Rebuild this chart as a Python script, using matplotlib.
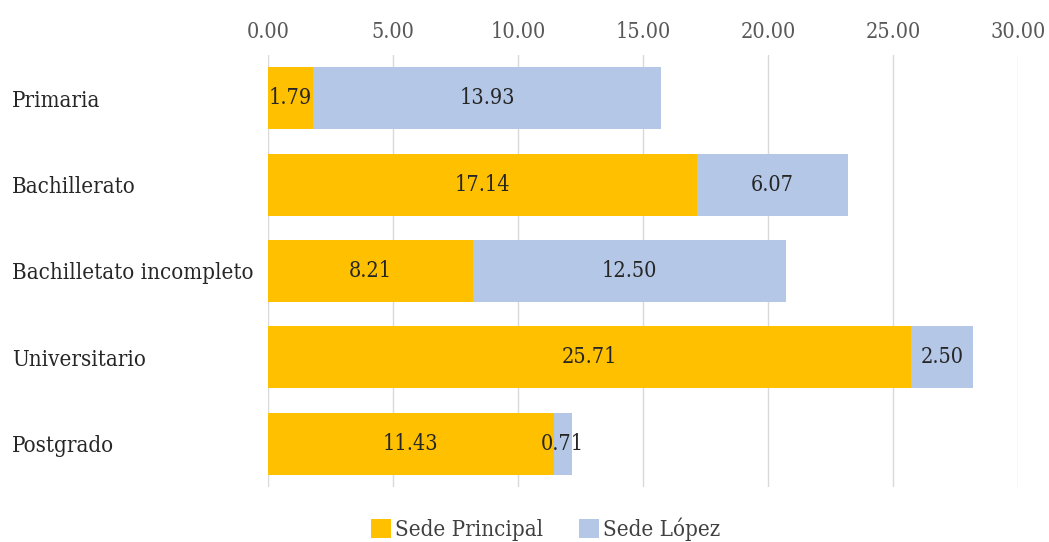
import matplotlib
matplotlib.use("Agg")
import matplotlib.pyplot as plt
import numpy as np

categories = ["Primaria", "Bachillerato", "Bachilletato incompleto", "Universitario", "Postgrado"]
sede_principal = [1.79, 17.14, 8.21, 25.71, 11.43]
sede_lopez = [13.93, 6.07, 12.50, 2.50, 0.71]
series_names = ["Sede Principal", "Sede López"]
xticks = [0, 5, 10, 15, 20, 25, 30]

plt.rcParams["font.family"] = ["DejaVu Serif"]
plt.rcParams["font.stretch"] = "condensed"

fig = plt.figure(figsize=(10.49, 5.42), dpi=100)
ax = fig.add_axes([0.2555, 0.1015, 0.715, 0.797])

y = np.arange(len(categories))
orange = "#FFC000"
blue = "#B4C7E7"
h = 0.72
b1 = ax.barh(y, sede_principal, height=h, color=orange, label=series_names[0], zorder=2)
b2 = ax.barh(y, sede_lopez, left=sede_principal, height=h, color=blue, label=series_names[1], zorder=2)

for vals, lefts in ((sede_principal, [0] * 5), (sede_lopez, sede_principal)):
    for yi, v, l in zip(y, vals, lefts):
        ax.text(l + v / 2, yi, f"{v:.2f}", ha="center", va="center", fontsize=15.5, color="#262626", zorder=3)

ax.set_xlim(0, 30)
ax.set_ylim(len(categories) - 0.5, -0.5)
ax.set_xticks(xticks)
ax.set_xticklabels([f"{t:.2f}" for t in xticks])
ax.xaxis.tick_top()
ax.set_yticks(y)
ax.set_yticklabels(categories)
ax.tick_params(axis="x", length=0, labelsize=15.5, labelcolor="#595959", pad=9)
# left-aligned category labels starting near the figure edge (pad in points)
ax.tick_params(axis="y", length=0, labelsize=16, labelcolor="#262626", pad=256 * 72 / 100)
for lab in ax.get_yticklabels():
    lab.set_horizontalalignment("left")
ax.grid(axis="x", color="#D9D9D9", linewidth=1, zorder=0)
for s in ax.spines.values():
    s.set_visible(False)

fig.legend(loc="lower center", bbox_to_anchor=(0.52, -0.035), ncol=2, frameon=False,
           fontsize=16, handlelength=0.9, handleheight=0.9, columnspacing=1.6, handletextpad=0.2,
           labelcolor="#404040")

fig.savefig("out.png", dpi=100)
